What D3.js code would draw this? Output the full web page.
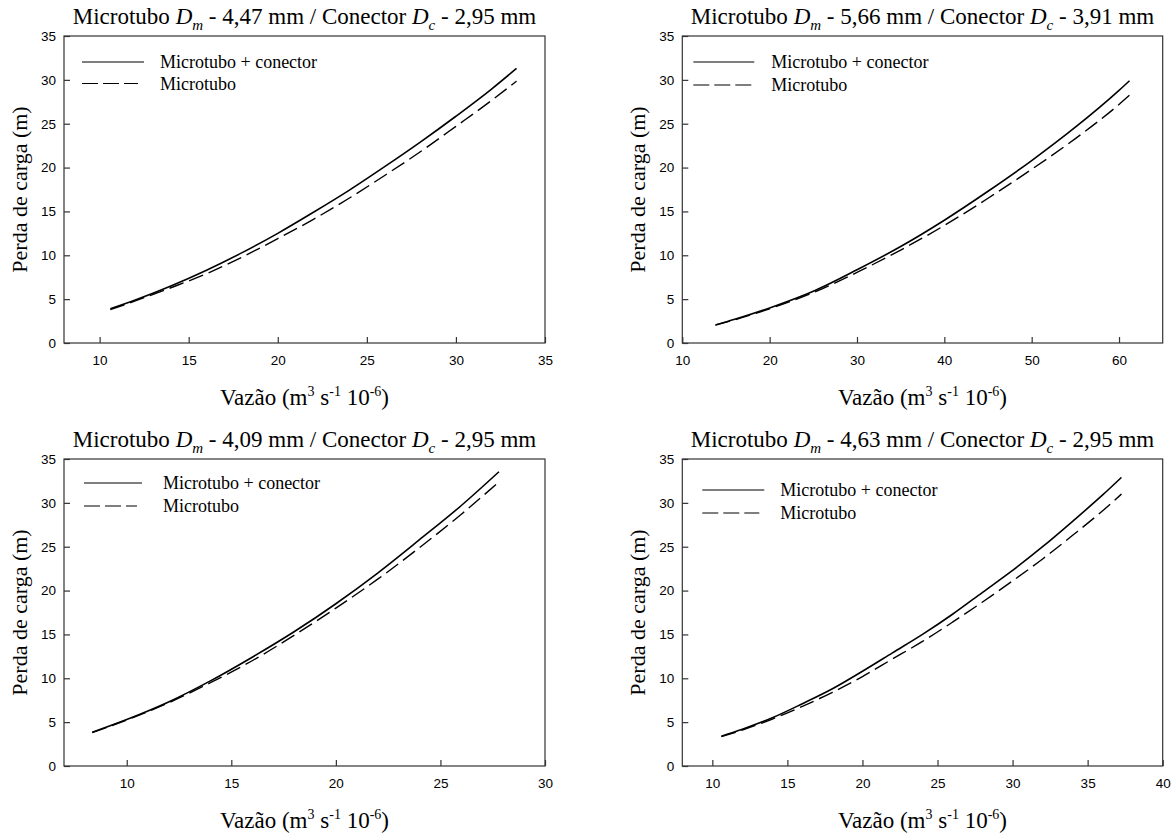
<!DOCTYPE html>
<html>
<head>
<meta charset="utf-8">
<script src="https://cdn.jsdelivr.net/npm/d3@7/dist/d3.min.js"></script>
<style>
  html, body { margin: 0; padding: 0; background: #fff; }
  svg { display: block; }
  .serif { font-family: "Liberation Serif", "Times New Roman", serif; }
  .sans { font-family: "Liberation Sans", Arial, sans-serif; }
</style>
</head>
<body>
<svg id="chart" width="1172" height="837"></svg>
<script>
// Panel captions: microtube and connector diameters (mm)
const microDiam = ["4,47", "5,66", "4,09", "4,63"];
const connDiam  = ["2,95", "3,91", "2,95", "2,95"];

// Axis extents and tick labels
const xDomains = [[8, 35], [10, 65], [7, 30], [8, 40]];
const xTicks = [
  [10, 15, 20, 25, 30, 35],
  [10, 20, 30, 40, 50, 60],
  [10, 15, 20, 25, 30],
  [10, 15, 20, 25, 30, 35, 40]
];
const yDomain = [0, 35];
const yTicks = [0, 5, 10, 15, 20, 25, 30, 35];

const seriesNames = ["Microtubo + conector", "Microtubo"];

// Flow (m3 s-1 10-6) and head loss (m) for each panel
const flow1   = [10.6, 12, 14, 16, 18, 20, 22, 24, 26, 28, 30, 32, 33.4];
const comConn1 = [3.9, 4.9, 6.5, 8.3, 10.3, 12.5, 14.9, 17.4, 20.1, 22.9, 25.85, 28.95, 31.3];
const semConn1 = [3.8, 4.8, 6.3, 7.9, 9.8, 11.9, 14.1, 16.5, 19.1, 21.8, 24.7, 27.65, 29.85];

const flow2   = [13.8, 16, 20, 25, 30, 35, 40, 45, 50, 55, 60, 61.2];
const comConn2 = [2.05, 2.7, 4.0, 5.9, 8.35, 11.0, 14.0, 17.3, 20.8, 24.6, 28.8, 29.9];
const semConn2 = [2.05, 2.65, 3.9, 5.75, 8.05, 10.6, 13.4, 16.5, 19.8, 23.3, 27.2, 28.25];

const flow3   = [8.35, 10, 12, 14, 16, 18, 20, 22, 24, 26, 27.8];
const comConn3 = [3.85, 5.3, 7.3, 9.7, 12.4, 15.3, 18.5, 22.0, 25.8, 29.7, 33.55];
const semConn3 = [3.8, 5.25, 7.2, 9.5, 12.0, 14.9, 18.0, 21.3, 24.9, 28.7, 32.4];

const flow4   = [10.6, 12, 14, 16, 18, 20, 22, 24, 26, 28, 30, 32, 34, 36, 37.25];
const comConn4 = [3.4, 4.2, 5.5, 7.1, 8.8, 10.8, 12.9, 15.0, 17.3, 19.8, 22.3, 25.0, 27.9, 30.9, 32.9];
const semConn4 = [3.35, 4.1, 5.35, 6.8, 8.4, 10.2, 12.2, 14.2, 16.4, 18.7, 21.1, 23.6, 26.3, 29.1, 31.0];

const flows = [flow1, flow2, flow3, flow4];
const withConn = [comConn1, comConn2, comConn3, comConn4];
const withoutConn = [semConn1, semConn2, semConn3, semConn4];

// Plot frames on the page
const frames = [
  { left: 64,    top: 36,  right: 545,    bottom: 343 },
  { left: 682.3, top: 36,  right: 1162.7, bottom: 343 },
  { left: 64,    top: 459, right: 545,    bottom: 766 },
  { left: 682.3, top: 459, right: 1162.7, bottom: 766 }
];
// Legend placement inside each frame
const legendPos = [
  { x0: 18, x1: 80, xd1: 74, tx: 96, y0: 26, y1: 47.5 },
  { x0: 11, x1: 72, xd1: 69, tx: 89, y0: 26, y1: 49 },
  { x0: 20, x1: 78, xd1: 73, tx: 99, y0: 24, y1: 47 },
  { x0: 20, x1: 82, xd1: 77, tx: 98, y0: 31, y1: 54 }
];

const DASH = "15,6";

const svg = d3.select("#chart");

function axisTitleX(g, x, y) {
  const t = g.append("text")
    .attr("class", "serif")
    .attr("x", x).attr("y", y)
    .attr("text-anchor", "middle")
    .style("font-size", "23px")
    .attr("fill", "#000");
  t.append("tspan").text("Vazão (m");
  t.append("tspan").style("font-size", "14px").attr("dy", -9).text("3");
  t.append("tspan").attr("dy", 9).text(" s");
  t.append("tspan").style("font-size", "14px").attr("dy", -9).text("-1");
  t.append("tspan").attr("dy", 9).text(" 10");
  t.append("tspan").style("font-size", "14px").attr("dy", -9).text("-6");
  t.append("tspan").attr("dy", 9).text(")");
  return t;
}

frames.forEach((f, i) => {
  const g = svg.append("g");
  const x = d3.scaleLinear().domain(xDomains[i]).range([f.left, f.right]);
  const y = d3.scaleLinear().domain(yDomain).range([f.bottom, f.top]);

  // Frame
  g.append("rect")
    .attr("x", f.left).attr("y", f.top)
    .attr("width", f.right - f.left).attr("height", f.bottom - f.top)
    .attr("fill", "none").attr("stroke", "#333").attr("stroke-width", 1.2);

  // Bottom axis, ticks pointing inward
  const xAxis = d3.axisBottom(x).tickValues(xTicks[i]).tickSizeInner(-6).tickSizeOuter(0).tickPadding(12);
  const gx = g.append("g").attr("transform", `translate(0,${f.bottom})`).call(xAxis);
  gx.attr("font-family", null);
  gx.select(".domain").remove();
  gx.selectAll(".tick line").attr("stroke", "#333").attr("stroke-width", 1.2);
  gx.selectAll(".tick text").attr("class", "sans").style("font-size", "13.5px").attr("fill", "#000")
    .attr("dy", "0.71em");

  // Left axis, ticks pointing inward
  const yAxis = d3.axisLeft(y).tickValues(yTicks).tickSizeInner(-6).tickSizeOuter(0).tickPadding(8);
  const gy = g.append("g").attr("transform", `translate(${f.left},0)`).call(yAxis);
  gy.attr("font-family", null);
  gy.select(".domain").remove();
  gy.selectAll(".tick line").attr("stroke", "#333").attr("stroke-width", 1.2);
  gy.selectAll(".tick text").attr("class", "sans").style("font-size", "13.5px").attr("fill", "#000");

  // Curves
  const pts1 = flows[i].map((q, k) => [q, withConn[i][k]]);
  const pts2 = flows[i].map((q, k) => [q, withoutConn[i][k]]);
  const line = d3.line().x(d => x(d[0])).y(d => y(d[1])).curve(d3.curveMonotoneX);
  g.append("path").datum(pts2).attr("d", line)
    .attr("fill", "none").attr("stroke", "#000").attr("stroke-width", 1.4)
    .attr("stroke-dasharray", DASH);
  g.append("path").datum(pts1).attr("d", line)
    .attr("fill", "none").attr("stroke", "#000").attr("stroke-width", 1.6);

  // Legend
  const L = legendPos[i];
  const lg = g.append("g").attr("transform", `translate(${f.left},${f.top})`);
  lg.append("line").attr("x1", L.x0).attr("x2", L.x1).attr("y1", L.y0).attr("y2", L.y0)
    .attr("stroke", "#000").attr("stroke-width", 1.2);
  lg.append("line").attr("x1", L.x0).attr("x2", L.xd1).attr("y1", L.y1).attr("y2", L.y1)
    .attr("stroke", "#000").attr("stroke-width", 1.2).attr("stroke-dasharray", "16,5");
  [L.y0, L.y1].forEach((yy, k) => {
    lg.append("text").attr("class", "serif").attr("x", L.tx).attr("y", yy + 6)
      .style("font-size", "18px").attr("fill", "#000")
      .text(seriesNames[k]);
  });

  // Title
  const cx = (f.left + f.right) / 2;
  const t = g.append("text")
    .attr("class", "serif")
    .attr("x", cx).attr("y", f.top - 12)
    .attr("text-anchor", "middle")
    .style("font-size", "23px").attr("fill", "#000");
  t.append("tspan").text("Microtubo ");
  t.append("tspan").style("font-style", "italic").text("D");
  t.append("tspan").style("font-style", "italic").style("font-size", "15px").attr("dy", 6).text("m");
  t.append("tspan").attr("dy", -6).text(` - ${microDiam[i]} mm / Conector `);
  t.append("tspan").style("font-style", "italic").text("D");
  t.append("tspan").style("font-style", "italic").style("font-size", "15px").attr("dy", 6).text("c");
  t.append("tspan").attr("dy", -6).text(` - ${connDiam[i]} mm`);

  // Axis titles
  g.append("text")
    .attr("class", "serif")
    .attr("transform", `translate(${f.left - 37},${(f.top + f.bottom) / 2}) rotate(-90)`)
    .attr("text-anchor", "middle")
    .style("font-size", "22px").attr("fill", "#000")
    .text("Perda de carga (m)");
  axisTitleX(g, cx, f.bottom + 62);
});

// Repeated axis caption running off the lower edge under the last panel
axisTitleX(svg, (frames[3].left + frames[3].right) / 2 + 18, frames[3].bottom + 95);
</script>
</body>
</html>
